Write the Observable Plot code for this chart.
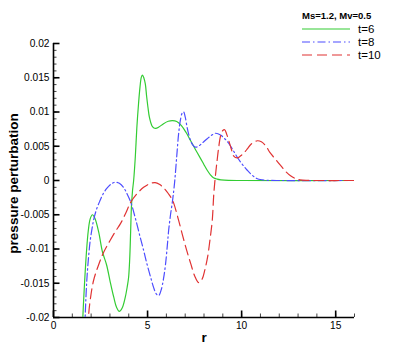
<!DOCTYPE html>
<html><head><meta charset="utf-8">
<script src="https://cdn.jsdelivr.net/npm/d3@7"></script>
<script src="https://cdn.jsdelivr.net/npm/@observablehq/plot@0.6"></script>
<style>
body{margin:0;background:#fff;font-family:"Liberation Sans",Arial,Helvetica,sans-serif}
#chart{position:relative;width:403px;height:358px}
#legend{position:absolute;left:0;top:0;pointer-events:none}
</style></head><body><div id="chart"></div>
<script>
const legendTitle = "Ms=1.2, Mv=0.5";
const seriesNames = ["t=6", "t=8", "t=10"];
const seriesColors = ["#33cc33", "#4d4dff", "#e03333"];
const seriesDash = [null, "8,3,1.5,3", "10,5"];

const r6 = [1.45,1.56,1.65,1.75,1.85,1.95,2.07,2.2,2.4,2.6,2.82,3.0,3.2,3.35,3.5,3.65,3.81,3.92,3.99,4.05,4.1,4.14,4.2,4.26,4.35,4.43,4.52,4.6,4.67,4.73,4.8,4.88,4.95,5.02,5.1,5.23,5.32,5.43,5.6,5.85,6.1,6.33,6.55,6.8,7.05,7.29,7.55,7.82,8.0,8.17,8.35,8.5,8.7,8.9,9.3,10,16];
const p6 = [-0.03,-0.02,-0.015,-0.0105,-0.0073,-0.0056,-0.005,-0.0055,-0.0075,-0.0104,-0.0123,-0.0146,-0.017,-0.0185,-0.0191,-0.0186,-0.0171,-0.0155,-0.0142,-0.0115,-0.0075,-0.004,-0.0015,0,0.0035,0.0077,0.0112,0.0137,0.0151,0.0154,0.015,0.0141,0.0123,0.0107,0.0092,0.008,0.0077,0.0076,0.0078,0.0083,0.00865,0.00875,0.0086,0.008,0.007,0.0058,0.0045,0.0032,0.0023,0.0015,0.0008,0.0004,0.0002,0.0001,0.00002,0,0];

const r8 = [1.62,1.69,1.77,1.86,1.95,2.05,2.13,2.3,2.48,2.65,2.82,3.05,3.28,3.5,3.72,3.92,4.11,4.35,4.61,4.8,4.96,5.15,5.32,5.45,5.59,5.72,5.85,5.96,6.05,6.12,6.22,6.33,6.44,6.55,6.65,6.75,6.85,6.92,7.0,7.1,7.2,7.29,7.4,7.52,7.64,7.8,8.0,8.17,8.4,8.62,8.9,9.1,9.32,9.55,9.77,10.05,10.3,10.55,10.8,11.1,11.5,12,16];
const p8 = [-0.026,-0.0194,-0.0146,-0.0113,-0.0088,-0.007,-0.0058,-0.0041,-0.0029,-0.0019,-0.0012,-0.00055,-0.00025,-0.0004,-0.001,-0.002,-0.0032,-0.0055,-0.0083,-0.0103,-0.0121,-0.014,-0.0156,-0.0165,-0.0168,-0.016,-0.0143,-0.0121,-0.0095,-0.0073,-0.005,-0.0029,-0.0002,0.0035,0.0068,0.0089,0.0099,0.01,0.0093,0.0078,0.0066,0.0058,0.0052,0.0049,0.0049,0.0052,0.0057,0.0061,0.0066,0.0069,0.0066,0.0061,0.0054,0.0044,0.0034,0.0023,0.0015,0.0008,0.0003,0.0001,0.00002,0,0];

const r10 = [1.8,1.86,1.95,2.13,2.4,2.66,3.0,3.3,3.56,3.85,4.1,4.45,4.79,5.1,5.4,5.65,5.9,6.1,6.33,6.6,6.86,7.08,7.29,7.5,7.71,7.9,8.05,8.19,8.32,8.44,8.52,8.6,8.7,8.78,8.88,9.0,9.1,9.2,9.32,9.45,9.57,9.77,9.95,10.15,10.3,10.5,10.83,11.05,11.3,11.5,11.8,12.07,12.35,12.6,12.85,13.1,13.5,14,16];
const p10 = [-0.026,-0.02,-0.0175,-0.0146,-0.0123,-0.0105,-0.0088,-0.0074,-0.0063,-0.0047,-0.0032,-0.0019,-0.001,-0.0005,-0.0003,-0.0006,-0.0012,-0.0019,-0.0029,-0.0053,-0.008,-0.0102,-0.0121,-0.0139,-0.0149,-0.0144,-0.013,-0.0112,-0.0086,-0.0058,-0.002,0.0005,0.003,0.0048,0.0065,0.0073,0.0074,0.0068,0.0058,0.0046,0.0036,0.0033,0.0036,0.0041,0.0046,0.0053,0.0058,0.00565,0.005,0.0041,0.0031,0.0022,0.0013,0.0007,0.0003,0.0001,0.00002,0,0];

const xTickValues = [0, 5, 10, 15];
const xTickLabels = ["0", "5", "10", "15"];
const yTickValues = [-0.02, -0.015, -0.01, -0.005, 0, 0.005, 0.01, 0.015, 0.02];
const yTickLabels = ["-0.02", "-0.015", "-0.01", "-0.005", "0", "0.005", "0.01", "0.015", "0.02"];
const xMinorValues = [0,1,2,3,4,5,6,7,8,9,10,11,12,13,14,15,16];
const yMinorValues = d3.range(-20, 21).map(k => k / 1000);
const xLabel = "r";
const yLabel = "pressure perturbation";

const seriesR = [r6, r8, r10];
const seriesP = [p6, p8, p10];
const rows = seriesNames.map((name, i) => seriesR[i].map((r, j) => ({t: name, r, p: seriesP[i][j]})));

const font = '"Liberation Sans",Arial,Helvetica,sans-serif';
const fmtX = d => xTickLabels[xTickValues.indexOf(d)];
const fmtY = d => yTickLabels[yTickValues.findIndex(v => Math.abs(v - d) < 1e-9)];

const plot = Plot.plot({
  width: 403, height: 358,
  marginLeft: 53, marginRight: 49, marginTop: 43, marginBottom: 41,
  x: {domain: [0, 16]},
  y: {domain: [-0.02, 0.02]},
  style: {fontFamily: font, fontSize: "10.2px", color: "#000", background: "#fff"},
  marks: [
    Plot.axisX({ticks: xMinorValues, tickSize: -3.5, tickFormat: () => "", label: null, stroke: "#444"}),
    Plot.axisY({ticks: yMinorValues, tickSize: -3.5, tickFormat: () => "", label: null, stroke: "#444"}),
    Plot.axisX({ticks: xTickValues, tickSize: -6.5, tickFormat: () => "", label: null, strokeWidth: 1.6}),
    Plot.axisY({ticks: yTickValues, tickSize: -6.5, tickFormat: () => "", label: null, strokeWidth: 1.6}),
    Plot.axisX({ticks: xTickValues, tickSize: 0, tickPadding: 4, tickFormat: fmtX, label: null}),
    Plot.axisY({ticks: yTickValues, tickSize: 0, tickPadding: 4, tickFormat: fmtY, label: null}),
    Plot.ruleX([0], {strokeWidth: 1.6}),
    Plot.ruleY([-0.02], {strokeWidth: 1.6}),
    ...rows.map((data, i) => Plot.line(data, {
      x: "r", y: "p", stroke: seriesColors[i], strokeWidth: 1.2,
      strokeDasharray: seriesDash[i] || undefined, clip: true, curve: "catmull-rom"
    })),
    Plot.text([xLabel], {frameAnchor: "bottom", dy: 20, lineAnchor: "middle", fontWeight: "bold", fontSize: 13.5, text: d => d}),
    Plot.text([yLabel], {frameAnchor: "left", dx: -40, dy: 3, rotate: -90, textAnchor: "middle", lineAnchor: "middle", fontWeight: "bold", fontSize: 13.5, text: d => d})
  ]
});

const chart = document.getElementById("chart");
chart.appendChild(plot);

// legend overlay
const lg = d3.select(chart).append("svg").attr("id", "legend").attr("width", 403).attr("height", 70)
  .style("font-family", font);
lg.append("text").attr("x", 302).attr("y", 19).attr("font-size", 9.5).attr("font-weight", "bold").text(legendTitle);
seriesNames.forEach((name, i) => {
  const yl = 29 + i * 13;
  lg.append("line").attr("x1", 302).attr("x2", 350).attr("y1", yl).attr("y2", yl)
    .attr("stroke", seriesColors[i]).attr("stroke-width", 1.2)
    .attr("stroke-dasharray", seriesDash[i]);
  lg.append("text").attr("x", 358).attr("y", yl + 4).attr("font-size", 11.5).text(name);
});
</script></body></html>
